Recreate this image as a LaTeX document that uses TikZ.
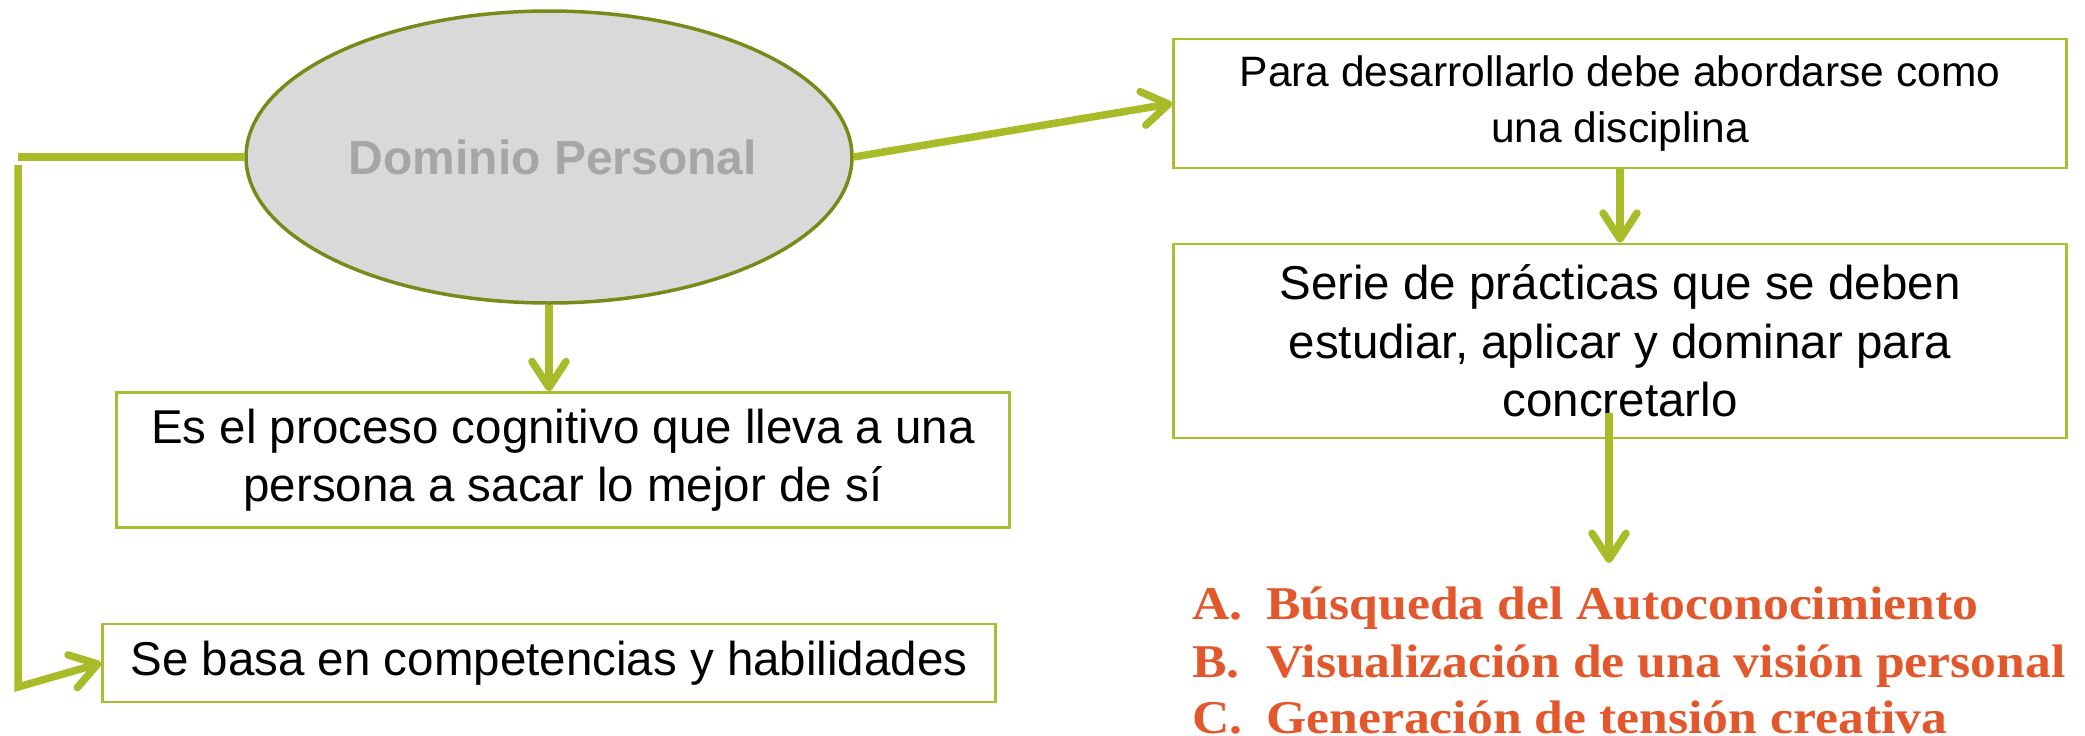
\documentclass[tikz,border=0pt]{standalone}
\usepackage{fontspec}
\setmainfont{Liberation Sans}
\newfontfamily\listserif{Liberation Serif}[FakeStretch=1.1]
\usetikzlibrary{shapes.geometric,arrows.meta}
\definecolor{lineG}{RGB}{168,187,40}
\definecolor{boxG}{RGB}{170,190,50}
\definecolor{ellG}{RGB}{120,138,26}
\definecolor{ellF}{RGB}{217,217,217}
\definecolor{ellT}{RGB}{166,166,166}
\definecolor{listO}{RGB}{226,88,44}
\tikzset{
  txtbox/.style={draw=boxG, line width=2.5pt, minimum width=893pt, inner sep=0pt, align=center,
    font=\fontsize{47.5}{58.5}\selectfont},
  conn/.style={draw=lineG, line width=7.5pt, -{Straight Barb[length=26pt,width=34pt,round]}},
  plain/.style={draw=lineG, line width=7.5pt},
  lst/.style={text=listO, font=\listserif\bfseries\fontsize{47}{57}\selectfont, anchor=base west, inner sep=0pt}
}
\begin{document}
\begin{tikzpicture}[x=1pt,y=-1pt]
\useasboundingbox (0,0) rectangle (2085,736);
% ellipse
\node[ellipse, draw=ellG, line width=3.5pt, fill=ellF, minimum width=606pt, minimum height=292pt, inner sep=0pt,
  text=ellT, font=\fontsize{48}{56}\selectfont\bfseries] (el) at (549,157) {\hspace*{8pt}Dominio Personal};
% boxes
\node[txtbox, minimum height=135pt] (b1) at (563,460) {Es el proceso cognitivo que lleva a una\\persona a sacar lo mejor de sí};
\node[txtbox, minimum height=78pt] (b2) at (549,663) {Se basa en competencias y habilidades};
\node[txtbox, minimum height=129pt, font=\fontsize{42.5}{56}\selectfont] (t1) at (1620,103.5) {Para desarrollarlo debe abordarse como\\una disciplina};
\node[txtbox, minimum height=194pt] (t2) at (1620,341) {Serie de prácticas que se deben\\estudiar, aplicar y dominar para\\concretarlo};
% list
\node[lst] (la) at (1192,619) {A.};
\node[lst] (lb) at (1192,677) {B.};
\node[lst] (lc) at (1192,733) {C.};
\node[lst] (ta) at (1266,619) {Búsqueda del Autoconocimiento};
\node[lst] (tb) at (1266,677) {Visualización de una visión personal};
\node[lst] (tc) at (1266,733) {Generación de tensión creativa};
% connectors
\coordinate (hl) at (18,157);
\coordinate (vtop) at (18,165);
\coordinate (vbot) at (18,687);
\draw[plain] (el.west) -- (hl);
\draw[conn] (vtop) -- (vbot) -- (b2.west);
\draw[conn] (el.south) -- (el.south |- b1.north);
\draw[conn] (el.east) -- (t1.west);
\draw[conn] (t1.south) -- (t2.north);
\coordinate (m1) at (1609,413);
\coordinate (m2) at (1609,563);
\draw[conn] (m1) -- (m2);
\end{tikzpicture}
\end{document}
